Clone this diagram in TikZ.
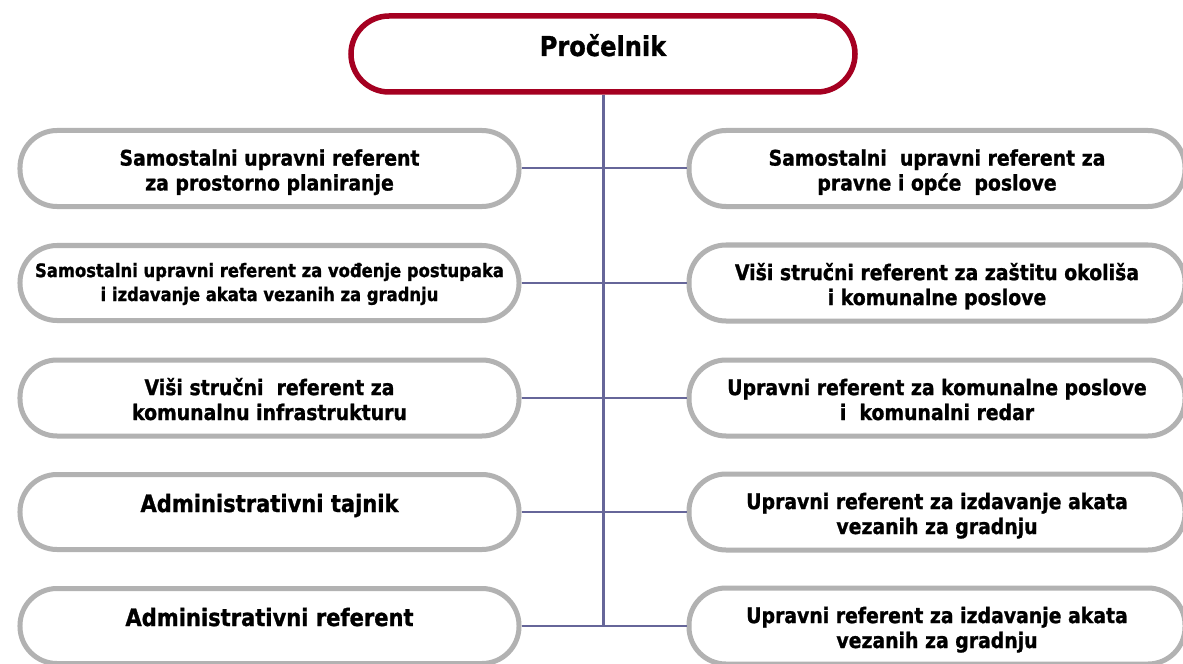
\documentclass[tikz,border=0pt]{standalone}
\usepackage{fontspec}
\setmainfont{DejaVu Sans}[FakeStretch=0.88, BoldFeatures={FakeBold=1.1}]
\definecolor{headred}{HTML}{A50021}
\definecolor{boxgray}{HTML}{B2B2B2}
\definecolor{linkblue}{HTML}{666699}
\begin{document}
\begin{tikzpicture}[x=1bp,y=-1bp,
  box/.style={draw=boxgray, line width=5bp, rounded corners=37bp, minimum height=75bp,
              align=center, inner sep=0pt, font=\bfseries\fontsize{21.5}{25}\selectfont,
              text height=60bp, text depth=16bp},
  lbox/.style={box, minimum width=499bp},
  rbox/.style={box, minimum width=496bp},
  smalltxt/.style={font=\bfseries\fontsize{18.7}{24}\selectfont, text height=52bp, text depth=16bp},
  bigtxt/.style={font=\bfseries\fontsize{24}{28}\selectfont, text height=18bp, text depth=18bp},
  head/.style={draw=headred, line width=5.5bp, rounded corners=38bp, minimum width=504bp,
               minimum height=76bp, inner sep=0pt, font=\bfseries\fontsize{27.5}{31}\selectfont,
               text height=22bp, text depth=18bp},
  link/.style={draw=linkblue, line width=2bp},
  trunk/.style={draw=linkblue, line width=3bp}
]
\useasboundingbox (0,0) rectangle (1183,664);
\fill[white] (0,0) rectangle (1183,664);

\node[head] (top) at (603,54) {Pročelnik};

\node[lbox] (l1) at (269.5,168.5) {Samostalni upravni referent\\za prostorno planiranje};
\node[lbox, smalltxt] (l2) at (269.5,283) {Samostalni upravni referent za vođenje postupaka\\i izdavanje akata vezanih za gradnju};
\node[lbox] (l3) at (269.5,398) {Viši stručni~ referent za\\komunalnu infrastrukturu};
\node[lbox, bigtxt] (l4) at (269.5,512) {Administrativni tajnik};
\node[lbox, bigtxt] (l5) at (269.5,626) {Administrativni referent};

\node[rbox] (r1) at (937,168.5) {Samostalni~ upravni referent za\\pravne i opće~ poslove};
\node[rbox] (r2) at (937,283) {Viši stručni referent za zaštitu okoliša\\i komunalne poslove};
\node[rbox] (r3) at (937,398) {Upravni referent za komunalne poslove\\i~ komunalni redar};
\node[rbox] (r4) at (937,512) {Upravni referent za izdavanje akata\\vezanih za gradnju};
\node[rbox] (r5) at (937,626) {Upravni referent za izdavanje akata\\vezanih za gradnju};

\draw[trunk] (top.south) -- (top.south |- l5.east);
\foreach \i in {1,...,5}{
  \draw[link] (l\i.east) -- (r\i.west);
}
\end{tikzpicture}
\end{document}
